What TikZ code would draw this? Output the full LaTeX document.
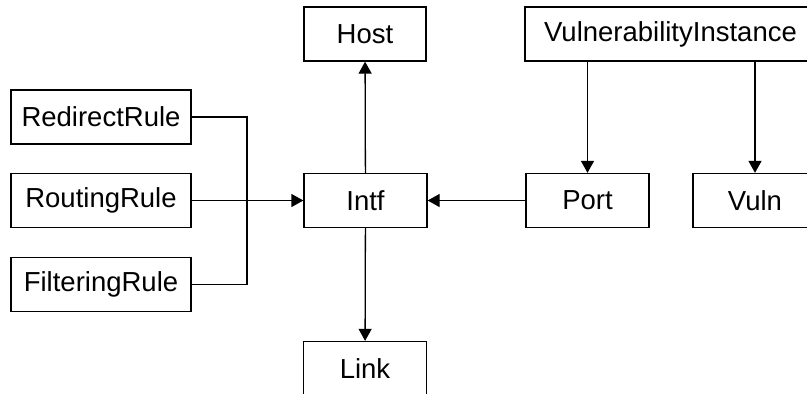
\documentclass[tikz,border=0pt]{standalone}
\usepackage{fontspec}
\setmainfont{Liberation Sans}
\usetikzlibrary{arrows.meta}
\begin{document}
\begin{tikzpicture}[x=1pt,y=-1pt,
  box/.style={draw,line width=1.3pt,minimum height=54pt,inner sep=0pt,font=\fontsize{27.5}{30}\selectfont},
  conn/.style={line width=1.3pt},
  arr/.style={conn,-{Triangle[length=12pt,width=13pt]}}]
\clip (0,0) rectangle (807,394);
\useasboundingbox (0,0) rectangle (807,394);
\node[box,minimum width=122pt] (host) at (365,34) {Host};
\node[box,minimum width=291pt] (vi) at (670.5,34) {VulnerabilityInstance};
\node[box,minimum width=123pt] (intf) at (365.5,200.5) {Intf};
\node[box,minimum width=123pt] (port) at (587.5,200.5) {Port};
\node[box,minimum width=124pt] (vuln) at (755,200.5) {Vuln};
\node[box,minimum width=123pt] (link) at (365,368.5) {Link};
\node[box,minimum width=180pt] (redir) at (101,117) {RedirectRule};
\node[box,minimum width=180pt] (rout) at (101,200.5) {RoutingRule};
\node[box,minimum width=180pt] (filt) at (101,284.5) {FilteringRule};
\coordinate (bus) at (247,200.5);
\draw[arr] (intf) -- (host);
\draw[arr] (intf) -- (link);
\draw[arr] (port) -- (intf);
\draw[arr] (vi.south -| port) -- (port);
\draw[arr] (vi.south -| vuln) -- (vuln);
\draw[arr] (rout) -- (intf);
\draw[conn] (redir) -| (bus);
\draw[conn] (filt) -| (bus);
\end{tikzpicture}
\end{document}
